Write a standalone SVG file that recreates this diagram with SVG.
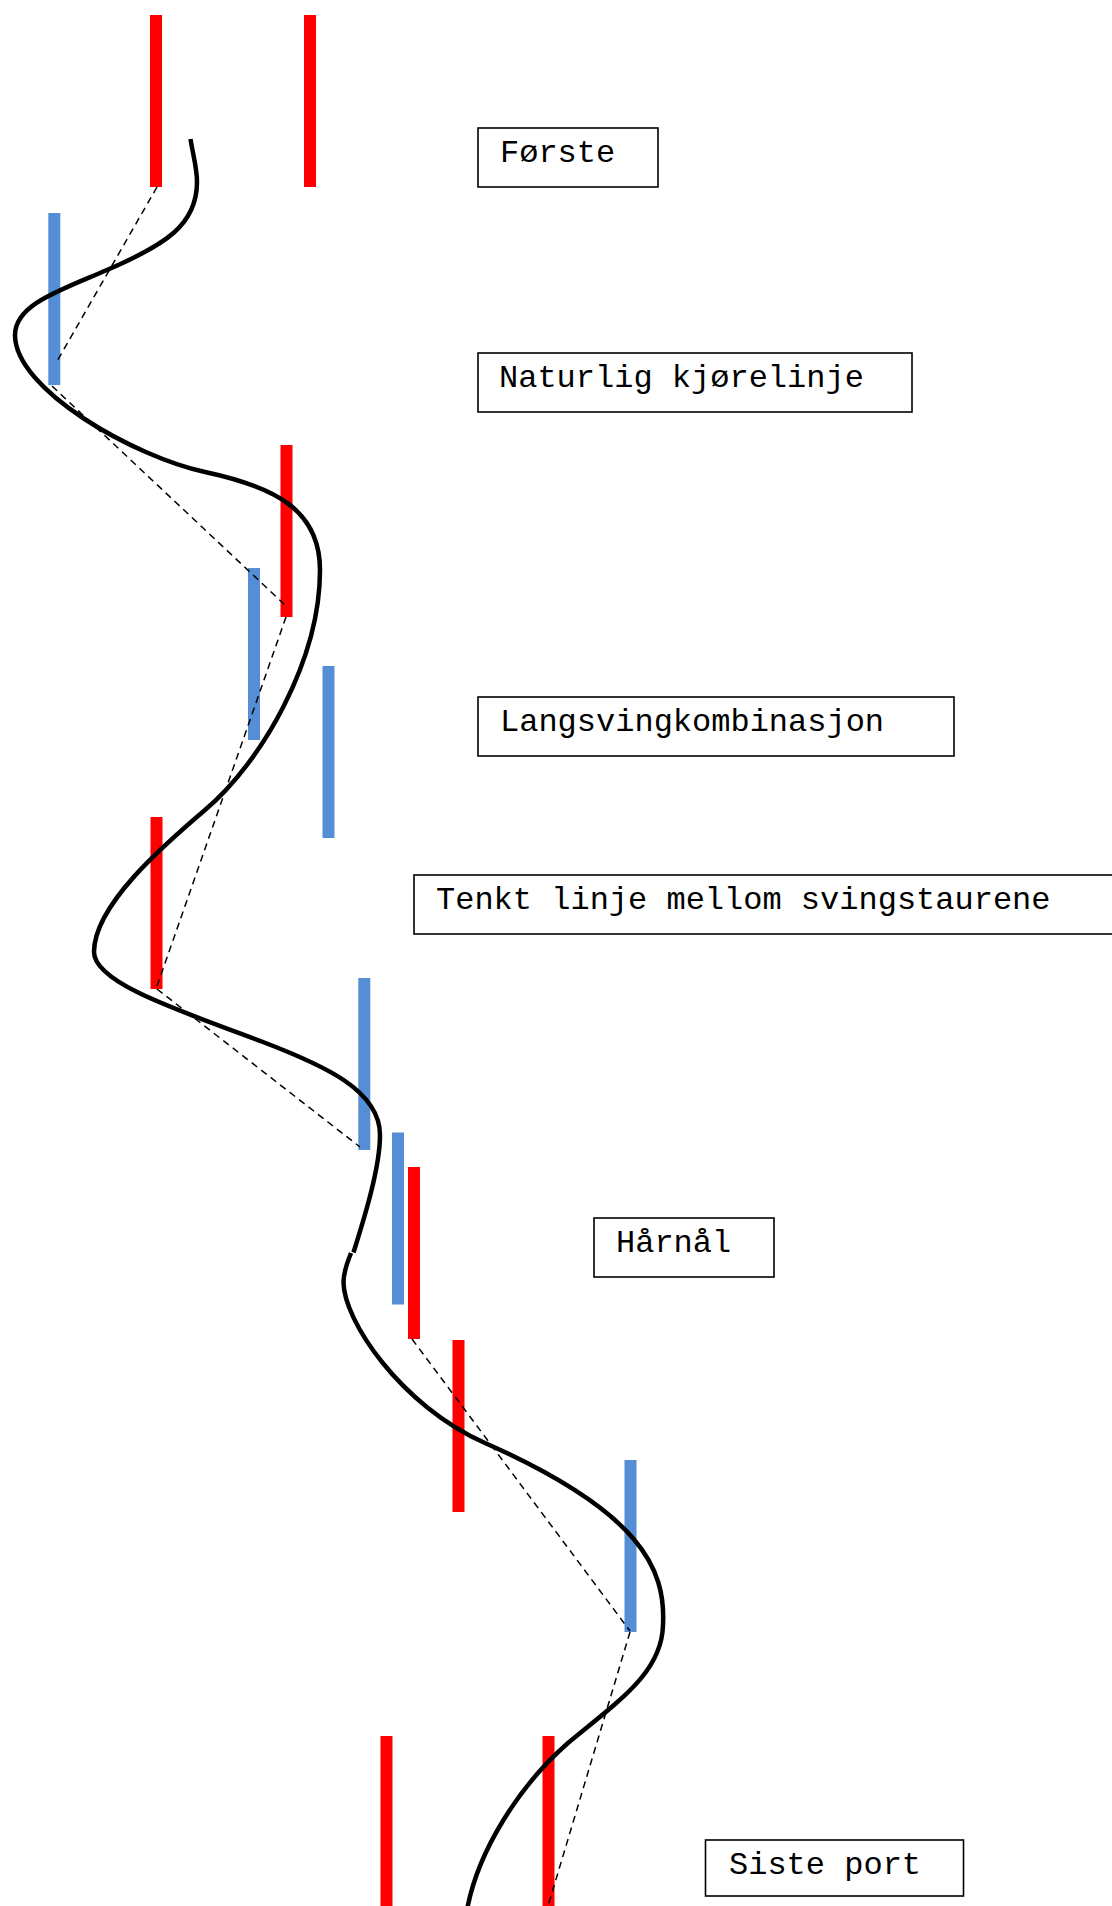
<svg xmlns="http://www.w3.org/2000/svg" width="1112" height="1906" viewBox="0 0 1112 1906">
<style>
.red{fill:#FF0000}
.blue{fill:#558ED5}
.box{fill:#FFFFFF;stroke:#000000;stroke-width:1.6}
.lbl{font-family:"Liberation Mono","Courier New",monospace;font-size:32px;fill:#000000}
.line{fill:none;stroke:#000000;stroke-width:4.5;stroke-linecap:butt;stroke-linejoin:round}
.dash{fill:none;stroke:#000000;stroke-width:1.5;stroke-dasharray:7 5}
</style>
<rect width="1112" height="1906" fill="#FFFFFF"/>
<g id="poles">
<rect id="r1" class="red" x="150" y="15" width="12" height="172"/>
<rect id="r2" class="red" x="304" y="15" width="12" height="172"/>
<rect id="b1" class="blue" x="48.3" y="213" width="12" height="172"/>
<rect id="r3" class="red" x="280.5" y="445" width="12" height="172"/>
<rect id="b2" class="blue" x="248" y="568" width="12" height="172"/>
<rect id="b3" class="blue" x="322.5" y="666" width="12" height="172"/>
<rect id="r4" class="red" x="150.5" y="817" width="12" height="172"/>
<rect id="b4" class="blue" x="358.3" y="978" width="12" height="172"/>
<rect id="b5" class="blue" x="392" y="1132.5" width="12" height="172"/>
<rect id="r5" class="red" x="408" y="1167" width="12" height="172"/>
<rect id="r6" class="red" x="452.5" y="1340" width="12" height="172"/>
<rect id="b6" class="blue" x="624.5" y="1460" width="12" height="172"/>
<rect id="r7" class="red" x="380.5" y="1736" width="12" height="172"/>
<rect id="r8" class="red" x="542.5" y="1736" width="12" height="172"/>
</g>
<g id="connectors">
<path class="dash" d="M157,187 L56,363"/>
<path class="dash" d="M52,386 L285,605"/>
<path class="dash" d="M286,617 L156,989"/>
<path class="dash" d="M157,989 L360,1147"/>
<path class="dash" d="M412,1339 L630,1631"/>
<path class="dash" d="M630,1632 L548,1906"/>
<path class="line" d="M190.5,139 C193,155 197,168 197,182 C197,225 165,245 107,270 C58,291 15,305 15,335 C15,390 135,457 205,472 C275,487 320,510 320,570 C320,660 262,762 205,810 C165,844 94,905 94,952 C94,985 193,1015 263,1042 C323,1065 380,1090 380,1135 C380,1170 362,1225 353.5,1252.5"/>
<path class="line" d="M351,1253 C347,1263 343.5,1272 343.5,1282 C343.5,1320 400,1405 485,1443 C640,1512 666,1568 663,1625 C662,1672 620,1700 568,1743 C520,1785 478,1850 467,1910"/>
</g>
<g id="n-forste">
<rect class="box" x="478" y="128" width="180" height="59"/>
<text class="lbl" x="500" y="162">Første</text>
</g>
<g id="n-naturlig">
<rect class="box" x="478" y="353" width="434" height="59"/>
<text class="lbl" x="499" y="387">Naturlig kjørelinje</text>
</g>
<g id="n-langsving">
<rect class="box" x="478" y="697" width="476" height="59"/>
<text class="lbl" x="500" y="731">Langsvingkombinasjon</text>
</g>
<g id="n-tenkt">
<rect class="box" x="414" y="875" width="720" height="59"/>
<text class="lbl" x="436" y="909">Tenkt linje mellom svingstaurene</text>
</g>
<g id="n-harnal">
<rect class="box" x="594" y="1218" width="180" height="59"/>
<text class="lbl" x="616" y="1252">Hårnål</text>
</g>
<g id="n-siste">
<rect class="box" x="705.5" y="1840" width="258" height="56"/>
<text class="lbl" x="729" y="1874">Siste port</text>
</g>
</svg>
